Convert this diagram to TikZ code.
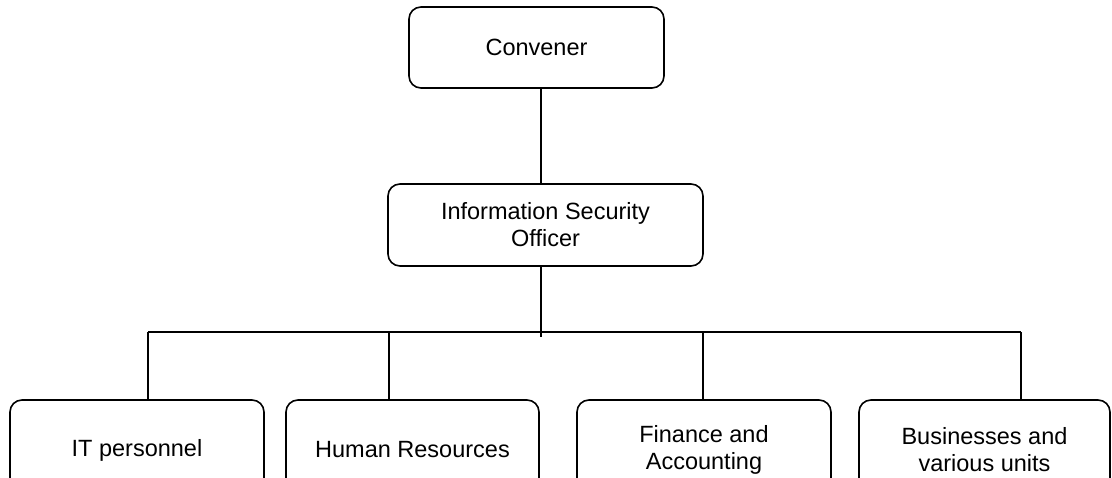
\documentclass[tikz,border=0pt]{standalone}
\usepackage{fontspec}
\setmainfont{Liberation Sans}
\begin{document}
\begin{tikzpicture}[x=1pt,y=-1pt,
  orgbox/.style={draw=black,line width=1.6pt,rounded corners=12pt,
    align=center,inner sep=0pt,
    font=\fontsize{23.5}{27}\selectfont},
  link/.style={draw=black,line width=1.6pt}]
  \useasboundingbox (0,0) rectangle (1112,477);
  \clip (0,0) rectangle (1112,477);

  % top levels
  \node[orgbox,minimum width=255pt,minimum height=81pt] (conv) at (536.5,47.5) {Convener};
  \node[orgbox,minimum width=315pt,minimum height=82pt] (iso) at (545.5,225) {Information Security\\Officer};

  % departments (lower edge runs past the page)
  \node[orgbox,minimum width=254pt,minimum height=100pt] (it) at (137,450) {IT personnel};
  \node[orgbox,minimum width=253pt,minimum height=100pt] (hr) at (412.5,450) {Human Resources};
  \node[orgbox,minimum width=254pt,minimum height=100pt] (fa) at (704,450) {Finance and\\Accounting};
  \node[orgbox,minimum width=251pt,minimum height=100pt] (bu) at (984.5,450) {Businesses and\\various units};

  % connector points
  \coordinate (trunk) at (541,0);
  \coordinate (join) at (541,337);
  \coordinate (busL) at (148,332);
  \coordinate (busR) at (1021,332);
  \coordinate (dIT) at (148,332);
  \coordinate (dHR) at (389,332);
  \coordinate (dFA) at (703,332);
  \coordinate (dBU) at (1021,332);

  % connectors
  \draw[link] (conv.south -| trunk) -- (iso.north -| trunk);
  \draw[link] (iso.south -| trunk) -- (join);
  \draw[link] (busL) -- (busR);
  \draw[link] (dIT) -- (it.north -| dIT);
  \draw[link] (dHR) -- (hr.north -| dHR);
  \draw[link] (dFA) -- (fa.north -| dFA);
  \draw[link] (dBU) -- (bu.north -| dBU);
\end{tikzpicture}
\end{document}
